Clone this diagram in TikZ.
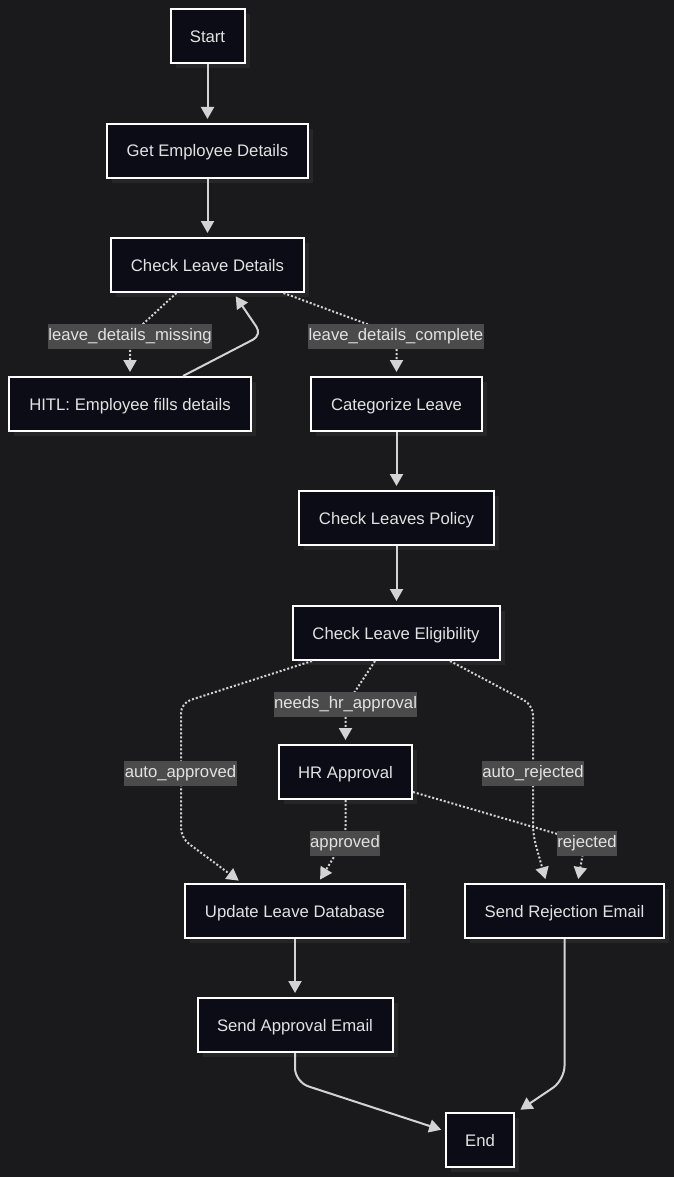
\documentclass[tikz,border=0pt]{standalone}
\usepackage{fontspec}
\setmainfont{Liberation Sans}
\usetikzlibrary{arrows.meta,shadows}
\definecolor{bgc}{HTML}{1A1A1C}
\definecolor{nodefill}{HTML}{0C0C16}
\definecolor{shadowc}{HTML}{262628}
\definecolor{edgec}{HTML}{D3D3D3}
\definecolor{labelbg}{HTML}{4A4B4A}
\definecolor{textc}{HTML}{E2E2E2}
\begin{document}
\begin{tikzpicture}[x=1pt,y=-1pt,
  box/.style={draw=white, line width=2pt, fill=nodefill, text=textc,
    minimum height=54pt, inner sep=0pt, text height=12pt, text depth=0pt,
    font=\fontsize{16.7}{20}\selectfont,
    drop shadow={shadow xshift=5pt, shadow yshift=-5pt, fill=shadowc, opacity=1}},
  elabel/.style={fill=labelbg, text=textc, inner xsep=0.5pt, inner ysep=4.5pt,
    text height=12pt, text depth=4pt,
    font=\fontsize{16.7}{20}\selectfont},
  solidedge/.style={draw=edgec, line width=2pt, rounded corners=10pt,
    -{Triangle[length=12pt,width=13pt]}, shorten >=4pt},
  dotedge/.style={draw=edgec, line width=2pt, dash pattern=on 2pt off 2pt,
    rounded corners=10pt, -{Triangle[length=12pt,width=13pt]}, shorten >=4pt}
]
\fill[bgc] (0,0) rectangle (674,1177);
\useasboundingbox (0,0) rectangle (674,1177);

\node[box, minimum width=74pt] (start) at (207.5,36.5) {Start};
\node[box, minimum width=201pt] (ged) at (207.5,151) {Get Employee Details};
\node[box, minimum width=193pt] (cld) at (207.5,265) {Check Leave Details};
\node[box, minimum width=242pt] (hitl) at (130,404) {HITL: Employee fills details};
\node[box, minimum width=171pt] (cat) at (396.5,404) {Categorize Leave};
\node[box, minimum width=195pt] (pol) at (396.5,518) {Check Leaves Policy};
\node[box, minimum width=207pt] (elig) at (396,633) {Check Leave Eligibility};
\node[box, minimum width=133pt] (hr) at (345.5,772) {HR Approval};
\node[box, minimum width=220pt] (upd) at (295,911) {Update Leave Database};
\node[box, minimum width=199pt] (rej) at (564.5,911) {Send Rejection Email};
\node[box, minimum width=195pt] (sae) at (295,1025) {Send Approval Email};
\node[box, minimum width=68pt] (end) at (480,1140) {End};

% solid edges
\draw[solidedge] (start.south) -- (ged.north);
\draw[solidedge] (ged.south) -- (cld.north);
\draw[solidedge] ([xshift=53pt]hitl.north) -- (262,335) -- ([xshift=26pt]cld.south);
\draw[solidedge] (cat.south) -- (pol.north);
\draw[solidedge] (pol.south) -- ([xshift=0.5pt]elig.north);
\draw[solidedge] (upd.south) -- (sae.north);
\draw[solidedge, rounded corners=14pt] (sae.south) -- (295,1082) -- ([yshift=9pt]end.west);
\draw[solidedge, rounded corners=14pt] (rej.south) -- (564.5,1080) -- ([xshift=2pt]end.north east);

% dotted edges
\draw[dotedge] ([xshift=-31pt]cld.south) -- (130,336) -- (hitl.north);
\draw[dotedge] ([xshift=76pt]cld.south) -- (396.5,335) -- (cat.north);
\draw[dotedge] ([xshift=-84pt]elig.south) -- (181,703) -- (181,838) -- ([xshift=-53pt]upd.north);
\draw[dotedge] ([xshift=-21pt]elig.south) -- (345.5,706) -- (hr.north);
\draw[dotedge] ([xshift=54pt]elig.south) -- (533,705) -- (533,835) -- ([xshift=-18pt]rej.north);
\draw[dotedge] (hr.south) -- (345.5,838) -- ([xshift=23pt]upd.north);
\draw[dotedge] ([yshift=-20pt]hr.east) -- (585,842) -- ([xshift=13pt]rej.north);

% labels
\node[elabel] (l1) at (130,336) {leave\_details\_missing};
\node[elabel] (l2) at (396,336) {leave\_details\_complete};
\node[elabel] (l3) at (345.5,704) {needs\_hr\_approval};
\node[elabel] (l4) at (180.5,773.5) {auto\_approved};
\node[elabel] (l5) at (533,773.5) {auto\_rejected};
\node[elabel] (l6) at (345,843.5) {approved};
\node[elabel] (l7) at (587,843.5) {rejected};
\end{tikzpicture}
\end{document}
